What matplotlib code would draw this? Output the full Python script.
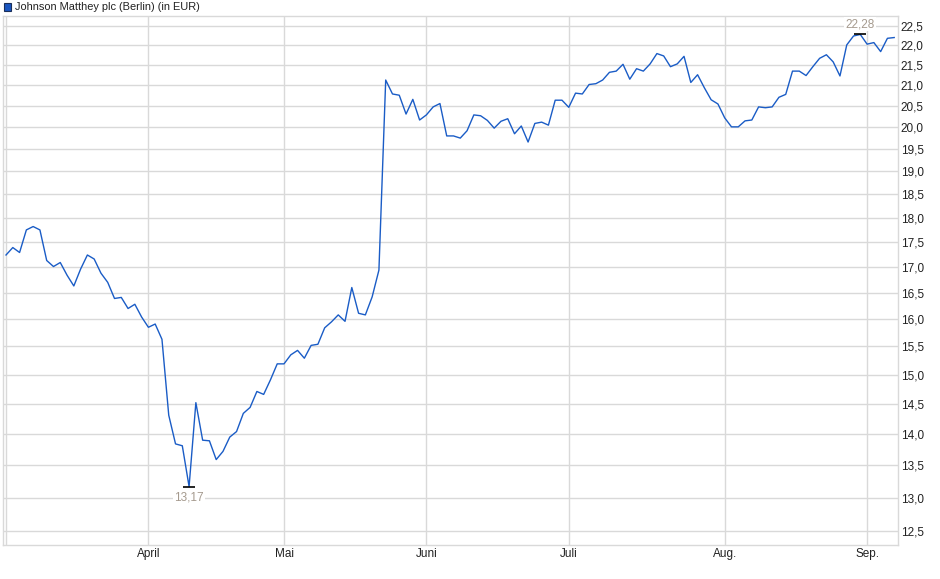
import numpy as np
import matplotlib
matplotlib.use('Agg')
import matplotlib.pyplot as plt
from matplotlib.patches import Rectangle
from matplotlib.ticker import FixedLocator, NullLocator, FuncFormatter

plt.rcParams['font.family'] = ['Liberation Sans', 'DejaVu Sans']

## data: closing prices per trading day (EUR) ##
prices = [17.24, 17.39, 17.29, 17.75, 17.82, 17.75, 17.13, 17.01, 17.09, 16.84,
          16.63, 16.96, 17.24, 17.16, 16.88, 16.70, 16.39, 16.41, 16.20, 16.28,
          16.04, 15.85, 15.91, 15.63, 14.31, 13.84, 13.81, 13.17, 14.52, 13.90,
          13.89, 13.59, 13.72, 13.95, 14.04, 14.34, 14.44, 14.71, 14.66, 14.91,
          15.19, 15.19, 15.35, 15.43, 15.29, 15.52, 15.54, 15.84, 15.95, 16.08,
          15.96, 16.60, 16.11, 16.08, 16.42, 16.94, 21.13, 20.79, 20.76, 20.31,
          20.66, 20.17, 20.29, 20.48, 20.56, 19.80, 19.80, 19.75, 19.92, 20.29,
          20.27, 20.16, 19.98, 20.14, 20.20, 19.85, 20.03, 19.66, 20.09, 20.12,
          20.05, 20.64, 20.64, 20.47, 20.81, 20.79, 21.02, 21.04, 21.13, 21.32,
          21.35, 21.52, 21.15, 21.41, 21.35, 21.53, 21.79, 21.73, 21.46, 21.53,
          21.72, 21.07, 21.26, 20.94, 20.65, 20.55, 20.22, 20.01, 20.01, 20.15,
          20.17, 20.48, 20.46, 20.48, 20.71, 20.78, 21.35, 21.35, 21.24, 21.46,
          21.67, 21.76, 21.58, 21.23, 22.01, 22.24, 22.28, 22.03, 22.07, 21.84,
          22.18, 22.20]
month_idx = [21, 41, 62, 83, 106, 127]   # first trading day of each month
month_lbl = ['April', 'Mai', 'Juni', 'Juli', 'Aug.', 'Sep.']
ytick_vals = [12.5, 13.0, 13.5, 14.0, 14.5, 15.0, 15.5, 16.0, 16.5, 17.0,
              17.5, 18.0, 18.5, 19.0, 19.5, 20.0, 20.5, 21.0, 21.5, 22.0, 22.5]
title = 'Johnson Matthey plc (Berlin) (in EUR)'

gridc = '#d9d9d9'
linec = '#1a5cc6'
labc = '#a59a8e'

fig = plt.figure(figsize=(9.4, 5.79), dpi=100)
ax = fig.add_axes([2.7/940, 1-545/579, (898-2.7)/940, (545-16)/579])

x = np.arange(len(prices))
ax.plot(x, prices, color=linec, lw=1.0, zorder=3)

ax.set_yscale('log')
ax.set_ylim(12.305, 22.763)
ax.set_xlim(-0.49, 131.56)

ax.yaxis.set_major_locator(FixedLocator(ytick_vals))
ax.yaxis.set_minor_locator(NullLocator())
ax.yaxis.set_major_formatter(FuncFormatter(lambda v, p: ('%.1f' % v).replace('.', ',')))
ax.yaxis.tick_right()

ax.set_xticks([0] + month_idx)
ax.set_xticklabels([''] + month_lbl)

ax.grid(True, color=gridc, lw=1.0, zorder=0)
ax.tick_params(axis='both', length=0, labelsize=8.5, colors='#222222')
ax.tick_params(axis='y', pad=2)
ax.tick_params(axis='x', pad=2)
for s in ax.spines.values():
    s.set_color(gridc)
    s.set_linewidth(1.0)

# min / max markers
imax = int(np.argmax(prices))
imin = int(np.argmin(prices))
for i, off, va in [(imax, 3, 'bottom'), (imin, -3.5, 'top')]:
    ax.plot([i], [prices[i]], marker='_', ms=9, mew=1.2, color='black', zorder=4)
    ax.annotate(('%.2f' % prices[i]).replace('.', ','), (i, prices[i]),
                xytext=(0, off), textcoords='offset points', ha='center', va=va,
                fontsize=8.5, color=labc, zorder=5,
                bbox=dict(boxstyle='square,pad=0.1', fc='white', ec='none'))

# header with legend square
fig.patches.append(Rectangle((4/940, 1-11/579), 7/940, 8/579, transform=fig.transFigure,
                             facecolor='#1a56c0', edgecolor='#1b2f5a', lw=0.8))
fig.text(15/940, 1-7/579, title, fontsize=7.9, va='center', ha='left', color='#222222')

fig.savefig('out.png', dpi=100)
